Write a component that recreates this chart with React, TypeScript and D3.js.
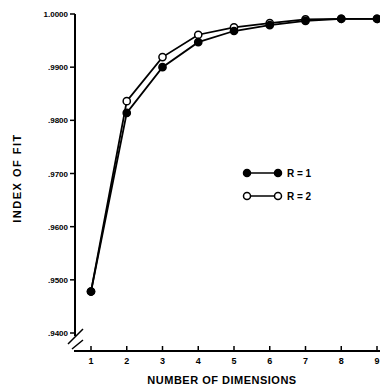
import * as d3 from "d3";
import { useEffect, useRef } from "react";

// dimensions 1..9
const dimensions = [1, 2, 3, 4, 5, 6, 7, 8, 9];
const fitR1 = [0.9478, 0.9814, 0.99, 0.9947, 0.9968, 0.9979, 0.9987, 0.9991, 0.9991];
const fitR2 = [0.9478, 0.9836, 0.9919, 0.9961, 0.9975, 0.9983, 0.999, 0.9991, 0.9991];
const yTicks = [0.94, 0.95, 0.96, 0.97, 0.98, 0.99, 1.0];
const yTickLabels = [".9400", ".9500", ".9600", ".9700", ".9800", ".9900", "1.0000"];
const xTickLabels = ["1", "2", "3", "4", "5", "6", "7", "8", "9"];
const seriesNames = ["R = 1", "R = 2"];

const App = () => {
  const ref = useRef<SVGSVGElement | null>(null);

  useEffect(() => {
    const width = 380;
    const axisX = 75;
    const axisY = 351;
    const font = "'Liberation Sans', Arial, sans-serif";

    const svg = d3.select(ref.current);
    svg.selectAll("*").remove();

    const x = d3.scaleLinear().domain([1, 9]).range([91, 377]);
    const y = d3.scaleLinear().domain([0.94, 1.0]).range([333, 14]);

    // y axis line (broken at the bottom)
    svg
      .append("line")
      .attr("x1", axisX)
      .attr("x2", axisX)
      .attr("y1", y(1.0))
      .attr("y2", 336)
      .attr("stroke", "#000")
      .attr("stroke-width", 2);

    // y ticks
    svg
      .selectAll(".ytick")
      .data(yTicks)
      .enter()
      .append("line")
      .attr("x1", axisX - 5)
      .attr("x2", axisX)
      .attr("y1", (d) => y(d))
      .attr("y2", (d) => y(d))
      .attr("stroke", "#000")
      .attr("stroke-width", 1.5);

    svg
      .selectAll(".ylab")
      .data(yTicks)
      .enter()
      .append("text")
      .attr("x", axisX - 7)
      .attr("y", (d) => y(d) + 3)
      .attr("text-anchor", "end")
      .attr("font-family", font)
      .attr("font-weight", "bold")
      .attr("font-size", 8)
      .text((d, i) => yTickLabels[i]);

    // axis break marks
    svg
      .append("path")
      .attr("d", "M68,344 L83,329 M72,349 L83,340")
      .attr("stroke", "#000")
      .attr("stroke-width", 1.5)
      .attr("fill", "none");

    // x axis
    svg
      .append("line")
      .attr("x1", 74)
      .attr("x2", width)
      .attr("y1", axisY)
      .attr("y2", axisY)
      .attr("stroke", "#000")
      .attr("stroke-width", 2);

    svg
      .selectAll(".xtick")
      .data(dimensions)
      .enter()
      .append("line")
      .attr("x1", (d) => x(d))
      .attr("x2", (d) => x(d))
      .attr("y1", axisY - 5)
      .attr("y2", axisY)
      .attr("stroke", "#000")
      .attr("stroke-width", 1.5);

    svg
      .selectAll(".xlab")
      .data(dimensions)
      .enter()
      .append("text")
      .attr("x", (d) => x(d))
      .attr("y", 364)
      .attr("text-anchor", "middle")
      .attr("font-family", font)
      .attr("font-weight", "bold")
      .attr("font-size", 9)
      .text((d, i) => xTickLabels[i]);

    // axis titles
    svg
      .append("text")
      .attr("x", 222)
      .attr("y", 384)
      .attr("text-anchor", "middle")
      .attr("font-family", font)
      .attr("font-weight", "bold")
      .attr("font-size", 11)
      .attr("letter-spacing", 0.5)
      .text("NUMBER OF DIMENSIONS");

    svg
      .append("text")
      .attr("transform", "translate(21,178) rotate(-90)")
      .attr("text-anchor", "middle")
      .attr("font-family", font)
      .attr("font-weight", "bold")
      .attr("font-size", 11)
      .attr("letter-spacing", 1.5)
      .text("INDEX OF FIT");

    const line = d3
      .line<number>()
      .x((d, i) => x(dimensions[i]))
      .y((d) => y(d));

    const series = [
      { values: fitR1, fill: "#000" },
      { values: fitR2, fill: "#fff" },
    ];

    series.forEach((s) => {
      svg
        .append("path")
        .attr("d", line(s.values))
        .attr("fill", "none")
        .attr("stroke", "#000")
        .attr("stroke-width", 1.8);
    });

    // open markers first so the filled ones sit on top where they overlap
    [series[1], series[0]].forEach((s) => {
      svg
        .selectAll(null)
        .data(s.values)
        .enter()
        .append("circle")
        .attr("cx", (d, i) => x(dimensions[i]))
        .attr("cy", (d) => y(d))
        .attr("r", 3.6)
        .attr("fill", s.fill)
        .attr("stroke", "#000")
        .attr("stroke-width", 1.5);
    });

    // legend
    series.forEach((s, i) => {
      const ly = 173 + i * 23;
      svg
        .append("line")
        .attr("x1", 247)
        .attr("x2", 278)
        .attr("y1", ly)
        .attr("y2", ly)
        .attr("stroke", "#000")
        .attr("stroke-width", 1.5);
      [247, 278].forEach((cx) => {
        svg
          .append("circle")
          .attr("cx", cx)
          .attr("cy", ly)
          .attr("r", 3.5)
          .attr("fill", s.fill)
          .attr("stroke", "#000")
          .attr("stroke-width", 1.5);
      });
      svg
        .append("text")
        .attr("x", 287)
        .attr("y", ly + 4)
        .attr("font-family", font)
        .attr("font-weight", "bold")
        .attr("font-size", 10)
        .text(seriesNames[i]);
    });
  }, []);

  return (
    <svg
      ref={ref}
      width={380}
      height={390}
      style={{ position: "absolute", left: 0, top: 0, background: "#fff" }}
    />
  );
};

export default App;
